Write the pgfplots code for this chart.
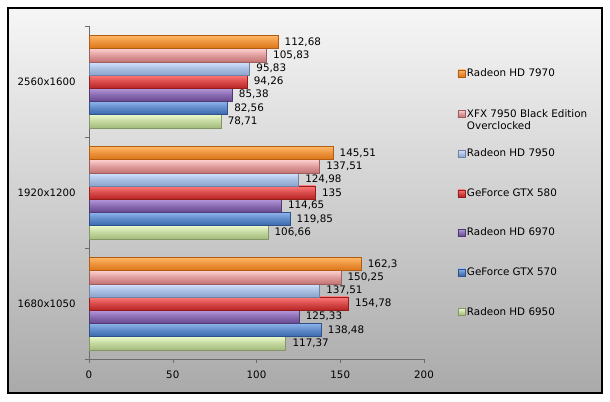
\documentclass[border=0pt]{standalone}
\usepackage{pgfplots}
\pgfplotsset{compat=1.18}
\usepackage{fontspec}
\setmainfont{DejaVu Sans}

\definecolor{orT}{HTML}{FFB868}\definecolor{orB}{HTML}{DC7418}
\definecolor{piT}{HTML}{FFD0D0}\definecolor{piB}{HTML}{C47474}
\definecolor{lbT}{HTML}{D4E4FF}\definecolor{lbB}{HTML}{8AA4CC}
\definecolor{reT}{HTML}{FF7A7A}\definecolor{reB}{HTML}{B82424}
\definecolor{puT}{HTML}{B698DC}\definecolor{puB}{HTML}{664890}
\definecolor{blT}{HTML}{8EB4EC}\definecolor{blB}{HTML}{3A68AC}
\definecolor{grT}{HTML}{ECFACC}\definecolor{grB}{HTML}{A4BC7C}

% resolution: 0 = 1680x1050, 1 = 1920x1200, 2 = 2560x1600
\pgfplotstableread{
res  hd6950 gtx570 hd6970 gtx580 hd7950 xfx7950 hd7970
0    117.37 138.48 125.33 154.78 137.51 150.25  162.3
1    106.66 119.85 114.65 135    124.98 137.51  145.51
2    78.71  82.56  85.38  94.26  95.83  105.83  112.68
}\fps

\pgfplotsset{
  bar3d/.style 2 args={top color=#1, bottom color=#2, middle color=#2!55!#1, draw=#2!80!black, line width=0.3pt},
}

% one plot per bar, so that each bar gets its own shading
\newcommand\series[4]{%
  \addplot[bar3d={#1}{#2}, bar shift=#4, restrict y to domain=-0.1:0.1] table[x=#3, y=res]{\fps};
  \addplot[bar3d={#1}{#2}, bar shift=#4, restrict y to domain=0.9:1.1, forget plot] table[x=#3, y=res]{\fps};
  \addplot[bar3d={#1}{#2}, bar shift=#4, restrict y to domain=1.9:2.1, forget plot] table[x=#3, y=res]{\fps};
}

\begin{document}
\begin{tikzpicture}[x=1bp,y=1bp]
\fill[white] (0,0) rectangle (610,401);
\shade[top color=gray!7, bottom color=gray!67] (8,8) rectangle (602,393);
\draw[black, line width=1.2pt] (8,8) rectangle (602,393);
\begin{axis}[
  at={(89bp,42bp)}, anchor=south west,
  scale only axis, width=335bp, height=333bp,
  xbar, bar width=13.2bp,
  xmin=0, xmax=200, ymin=-0.5, ymax=2.5,
  axis x line*=bottom, axis y line*=left,
  axis line style={gray!85!black},
  xtick={0,50,100,150,200},
  xtick style={gray!85!black, draw},
  x tick label style={font=\fontsize{10.3}{12}\selectfont, yshift=-4bp},
  tick align=outside, major tick length=4bp,
  ytick={0,1,2},
  yticklabels={1680x1050,1920x1200,2560x1600},
  y tick label style={font=\fontsize{10.2}{12}\selectfont, xshift=-6bp},
  minor ytick={-0.5,0.5,1.5,2.5},
  ytick style={draw=none},
  minor y tick style={gray!85!black, draw},
  minor tick length=4bp,
  nodes near coords,
  nodes near coords style={font=\fontsize{10.4}{12}\selectfont, black, xshift=3.5bp},
  /pgf/number format/assume math mode=true,
  /pgf/number format/use comma,
  /pgf/number format/1000 sep={},
  legend style={at={(1.091,0.884)}, anchor=north west, draw=none, fill=none,
    font=\fontsize{10.4}{12.5}\selectfont, row sep=26.3bp,
    legend cell align=left},
  legend image code/.code={\fill[#1] (-2bp,-3.5bp) rectangle (5bp,3.5bp);},
  reverse legend,
]
\series{grT}{grB}{hd6950}{-39.6bp}
\series{blT}{blB}{gtx570}{-26.4bp}
\series{puT}{puB}{hd6970}{-13.2bp}
\series{reT}{reB}{gtx580}{0bp}
\series{lbT}{lbB}{hd7950}{13.2bp}
\series{piT}{piB}{xfx7950}{26.4bp}
\series{orT}{orB}{hd7970}{39.6bp}
\legend{Radeon HD 6950, GeForce GTX 570, Radeon HD 6970, GeForce GTX 580, Radeon HD 7950,
  {\raisebox{0pt}[\height][0pt]{\begin{tabular}[t]{@{}l@{}}XFX 7950 Black Edition\\Overclocked\end{tabular}}},
  Radeon HD 7970}
\end{axis}
\end{tikzpicture}
\end{document}
